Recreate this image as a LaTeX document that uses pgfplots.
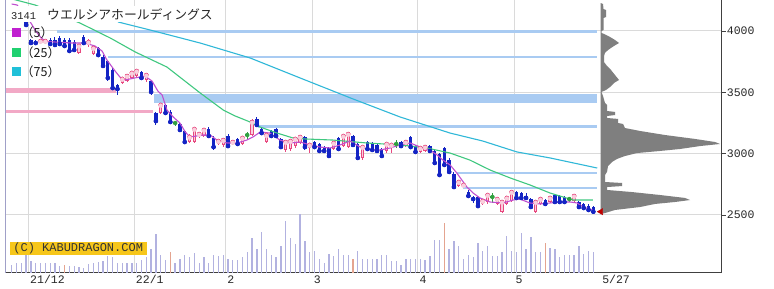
\documentclass[border=0pt]{standalone}
\usepackage{fontspec}
\setmainfont{Liberation Sans}
\newfontfamily\jp{Noto Sans CJK JP}
\newfontfamily\mono{Liberation Mono}
\usepackage{pgfplots}
\usepackage{pgfplotstable}
\pgfplotsset{compat=1.18}

\definecolor{bandblue}{HTML}{A9CBF2}
\definecolor{bandpink}{HTML}{F2A9C6}
\definecolor{gridc}{HTML}{DADADA}
\definecolor{cdown}{HTML}{1424C4}
\definecolor{cup}{HTML}{E8487F}
\definecolor{cupfill}{HTML}{F9CFDD}
\definecolor{cdoji}{HTML}{30A040}
\definecolor{ma5}{HTML}{C050D0}
\definecolor{ma25}{HTML}{40C880}
\definecolor{ma75}{HTML}{30B8D8}
\definecolor{leg5}{HTML}{C020D0}
\definecolor{leg25}{HTML}{20D070}
\definecolor{leg75}{HTML}{20C0D8}
\definecolor{volc}{HTML}{B2B2E0}
\definecolor{volr}{HTML}{E4A490}
\definecolor{profc}{HTML}{7F7F7F}
\definecolor{crbg}{HTML}{F6C61A}
\definecolor{leftc}{HTML}{A0A0C8}
\definecolor{mk}{HTML}{C00000}

% down candles: index open high low close
\pgfplotstableread{
i o h l c
0 4171 4187 4122 4139
1 4139 4155 4090 4106
3 4073 4081 4041 4049
4 3927 3935 3894 3902
5 3918 3927 3894 3902
8 3927 3943 3886 3894
9 3927 3951 3878 3886
10 3943 3959 3878 3894
11 3927 3943 3870 3878
12 3927 3943 3829 3837
13 3910 3927 3829 3845
15 3951 3967 3894 3902
18 3861 3870 3788 3804
19 3788 3804 3706 3715
20 3755 3764 3592 3617
21 3682 3698 3519 3535
22 3560 3568 3478 3527
27 3666 3674 3601 3617
29 3592 3601 3478 3503
30 3332 3340 3234 3266
32 3397 3405 3323 3332
33 3340 3356 3250 3258
35 3242 3258 3185 3193
36 3185 3193 3087 3095
41 3201 3217 3136 3144
42 3128 3144 3030 3054
45 3144 3160 3054 3062
47 3120 3128 3062 3079
51 3283 3299 3226 3234
52 3201 3217 3160 3168
54 3185 3193 3136 3144
55 3201 3209 3136 3144
56 3120 3128 3046 3054
61 3136 3144 3030 3054
63 3095 3103 3046 3054
64 3079 3087 3005 3022
65 3054 3062 3005 3022
66 3046 3054 2973 2981
68 3128 3136 3030 3038
71 3144 3152 3054 3071
72 3079 3087 2948 2965
74 3095 3103 3030 3038
75 3087 3095 3014 3030
76 3071 3079 3014 3022
77 3038 3046 2973 2981
81 3095 3103 3054 3062
83 3136 3144 3046 3054
84 3062 3071 3005 3014
87 3062 3071 3014 3022
88 3022 3030 2908 2924
89 2997 3005 2810 2826
90 3046 3054 2899 2908
91 2948 2965 2834 2851
92 2834 2851 2720 2728
95 2687 2704 2647 2655
96 2647 2655 2598 2630
97 2647 2655 2557 2573
105 2687 2696 2622 2639
106 2679 2687 2622 2639
107 2655 2679 2622 2639
108 2630 2639 2557 2565
111 2622 2630 2582 2590
113 2663 2671 2598 2606
114 2655 2663 2598 2606
115 2647 2655 2598 2606
118 2606 2614 2557 2565
119 2590 2598 2541 2557
120 2573 2590 2524 2541
121 2565 2573 2516 2527
}\down

% up candles
\pgfplotstableread{
i o h l c
2 4098 4139 4081 4122
6 3902 3927 3894 3918
7 3902 3927 3894 3918
14 3821 3894 3812 3878
16 3886 3935 3870 3910
17 3812 3878 3804 3861
23 3576 3625 3568 3609
24 3592 3641 3584 3633
25 3617 3666 3609 3658
26 3633 3682 3625 3674
28 3601 3649 3584 3641
31 3332 3405 3323 3397
37 3095 3160 3087 3136
38 3095 3209 3087 3201
39 3144 3177 3128 3160
40 3144 3209 3136 3193
43 3079 3120 3071 3103
44 3071 3120 3054 3111
46 3079 3103 3071 3095
48 3079 3136 3071 3128
50 3152 3283 3144 3258
53 3095 3168 3087 3152
57 3030 3111 3014 3095
58 3038 3111 3022 3103
59 3062 3136 3046 3120
60 3087 3144 3079 3136
62 3046 3087 3005 3071
67 3038 3095 3030 3087
69 3062 3152 3054 3144
70 3054 3168 3046 3160
73 2965 3062 2948 3054
78 3022 3087 3005 3079
79 3046 3087 3005 3071
82 3062 3103 3054 3095
85 3014 3054 3005 3046
86 3022 3071 3014 3054
93 2736 2785 2728 2769
94 2728 2753 2720 2745
98 2590 2630 2582 2614
99 2606 2679 2590 2663
101 2590 2639 2582 2630
102 2524 2614 2516 2606
103 2590 2647 2582 2639
104 2614 2696 2606 2687
109 2524 2614 2516 2606
110 2590 2639 2582 2630
112 2606 2647 2598 2639
117 2614 2671 2606 2655
}\up

% doji candles
\pgfplotstableread{
i o h l c
34 3250 3266 3226 3250
49 3152 3177 3111 3152
80 3079 3111 3046 3079
100 2647 2679 2598 2647
116 2630 2647 2606 2630
}\doji

% moving averages
\pgfplotstableread{
i v
0 4220
1.1 4212
2 4170
3 4120
4 4065
5 4000
6 3950
7 3915
9 3910
12.5 3902
15.2 3902
17.3 3878
18.8 3837
19.8 3764
21.5 3674
22.5 3625
23.6 3601
25.6 3617
27.7 3633
29.2 3592
30.4 3511
31.3 3478
32.3 3356
33.6 3299
35.0 3250
36.1 3177
37.1 3136
39.8 3152
41.3 3152
42.7 3111
44.8 3087
46.9 3087
48.9 3111
50.2 3136
51.7 3177
53.7 3168
55.8 3111
57.9 3087
60.0 3095
62.1 3071
64.1 3054
66.2 3046
68.3 3071
70.4 3103
72.5 3054
74.5 3030
76.6 3030
78.7 3046
80.8 3071
82.9 3087
85.0 3054
87.0 3030
88.5 2989
89.7 2948
91.2 2908
92.6 2842
94.7 2728
96.0 2679
97.4 2639
99.5 2606
102.2 2598
104.3 2622
105.7 2630
107.8 2598
109.9 2590
112.0 2598
114.1 2606
116.2 2606
117.6 2598
118.9 2565
120.9 2541
}\maA

\pgfplotstableread{
i v
0 4262
4.85 4212
14.2 4065
20.5 3943
25.7 3829
32.3 3706
39.2 3495
44.0 3356
46.5 3307
49.6 3258
51.7 3217
55.2 3168
58.5 3128
61.0 3120
66.8 3111
73.9 3087
80.8 3071
86.4 3046
91.2 3005
95.3 2948
99.5 2867
103.7 2802
107.8 2745
112.0 2679
114.7 2647
116.8 2622
120.9 2622
}\maB

\pgfplotstableread{
i v
22.1 4074
28.8 4008
39.2 3902
49.6 3780
60.0 3617
71.0 3446
80.8 3299
91.2 3168
98.0 3103
105.1 3014
112.0 2965
121.8 2883
}\maC

% volume (thousand shares)
\pgfplotstableread{
i v
0 115
1 140
2 130
3 265
4 165
5 140
6 130
7 130
8 130
9 130
10 90
11 115
12 90
13 90
14 75
15 65
16 125
17 140
18 150
19 165
20 230
21 215
22 140
23 140
24 140
25 130
26 140
27 180
28 215
29 330
30 550
31 250
32 180
33 290
34 140
35 190
36 250
37 215
38 280
39 140
40 215
41 130
42 250
43 240
44 250
45 190
46 180
47 180
48 215
49 290
50 490
51 330
52 580
53 340
54 250
55 215
56 380
57 725
58 490
59 400
60 830
61 450
62 290
63 305
64 190
65 130
66 265
67 240
68 330
69 250
70 250
71 190
72 305
73 190
74 190
75 190
76 200
77 250
78 250
79 165
80 165
81 105
82 190
83 190
84 200
85 190
86 180
87 230
88 465
89 465
90 700
91 340
92 450
93 380
94 190
95 250
96 215
97 415
98 300
99 380
100 230
101 230
102 290
103 515
104 305
105 290
106 565
107 340
108 500
109 290
110 290
111 415
112 350
113 340
114 215
115 250
116 250
117 250
118 380
119 265
120 305
121 290
}\vol

\pgfplotstableread{
i v
11 115
33 290
71 190
90 700
111 415
}\volred

% volume by price profile
\pgfplotstableread{
v p
0 4228
2.3 4220
2.8 4179
5.3 4171
5.3 4114
2.8 4106
2.8 4008
0.8 4000
0.8 3984
3.3 3976
9.3 3951
14.3 3927
18.3 3902
13.3 3878
7.3 3845
4.3 3821
3.3 3796
3.3 3747
6.3 3715
10.3 3682
14.3 3641
18.3 3601
13.3 3576
9.3 3543
5.3 3519
0.8 3503
2.3 3470
4.3 3413
6.3 3397
6.3 3348
14.3 3340
14.3 3315
6.3 3307
6.3 3291
17.3 3283
17.3 3250
22.3 3242
24.3 3209
39.3 3185
64.3 3152
94.3 3120
114.3 3095
119.3 3079
99.3 3062
79.3 3038
59.3 3022
36.3 3005
24.3 2981
16.3 2957
11.3 2932
7.3 2899
6.3 2851
4.3 2826
4.3 2769
21.3 2761
21.3 2736
6.3 2728
6.3 2704
31.3 2687
59.3 2663
84.3 2639
89.3 2622
74.3 2606
54.3 2590
39.3 2565
14.3 2541
4.3 2516
0.3 2508
0 2504
}\prof

\begin{document}
\begin{tikzpicture}
\useasboundingbox (0pt,0pt) rectangle (774pt,-289pt);
\fill[white] (0pt,0pt) rectangle (774pt,-289pt);

\begin{axis}[
  at={(5pt,-272.7pt)}, anchor=south west,
  scale only axis, width=716.7pt, height=272.7pt,
  xmin=-1.394, xmax=147.7, ymin=2029.6, ymax=4252.7,
  axis x line*=bottom, axis y line*=right,
  axis line style={draw=black!75, line width=0.9pt, -},
  xtick={3.5,25.5,44.5,62.5,84.5,104.5},
  xticklabels={21/12,22/1,2,3,4,5},
  extra x ticks={122.5}, extra x tick labels={5/27},
  extra x tick style={grid=none},
  ytick={2500,3000,3500,4000},
  yticklabels={2500,3000,3500,4000},
  grid=major, major grid style={draw=gridc, line width=1pt},
  tick align=outside, major tick length=4pt,
  xtick style={draw=none},
  ytick style={draw=black!75, line width=0.8pt},
  ticklabel style={font=\mono\fontsize{11.5}{12}\selectfont, text=black!85},
  xticklabel style={anchor=base west, inner sep=0pt, xshift=1.5pt, yshift=-7pt},
  yticklabel style={anchor=west, inner sep=0pt, xshift=1pt},
]
% support / resistance bands
\addplot[bandpink, line width=5pt, forget plot] coordinates {(-1.4,3515) (21.8,3515)};
\addplot[bandpink, line width=3.5pt, forget plot] coordinates {(-1.4,3344) (29.4,3344)};
\addplot[bandblue, line width=3.5pt, forget plot] coordinates {(9.4,3996) (121.8,3996)};
\addplot[bandblue, line width=1.3pt, forget plot] coordinates {(20,3788) (121.8,3788)};
\addplot[bandblue, line width=9pt, forget plot] coordinates {(29.6,3450) (121.8,3450)};
\addplot[bandblue, line width=3.5pt, forget plot] coordinates {(51.2,3221) (121.8,3221)};
\addplot[bandblue, line width=1.3pt, forget plot] coordinates {(92.6,2842) (121.8,2842)};
\addplot[bandblue, line width=1.3pt, forget plot] coordinates {(93.9,2720) (121.8,2720)};

% down candles
\addplot[cdown, only marks, mark=none, error bars/.cd, y dir=both, y explicit, error mark=none,
  error bar style={line width=1pt}]
  table[x=i, y=c, y error plus expr=\thisrow{h}-\thisrow{c}, y error minus expr=\thisrow{c}-\thisrow{l}] {\down};
\addplot[cdown, only marks, mark=none, error bars/.cd, y dir=both, y explicit, error mark=none,
  error bar style={line width=3.3pt}]
  table[x=i, y=c, y error plus expr=\thisrow{o}-\thisrow{c}, y error minus expr=0] {\down};
% up candles
\addplot[cup, only marks, mark=none, error bars/.cd, y dir=both, y explicit, error mark=none,
  error bar style={line width=1pt}]
  table[x=i, y=c, y error plus expr=\thisrow{h}-\thisrow{c}, y error minus expr=\thisrow{c}-\thisrow{l}] {\up};
\addplot[cup, only marks, mark=none, error bars/.cd, y dir=both, y explicit, error mark=none,
  error bar style={line width=3.3pt}]
  table[x=i, y=c, y error plus expr=0, y error minus expr=\thisrow{c}-\thisrow{o}] {\up};
\addplot[cupfill, only marks, mark=none, error bars/.cd, y dir=both, y explicit, error mark=none,
  error bar style={line width=1.3pt}]
  table[x=i, y expr=\thisrow{c}-6, y error plus expr=0, y error minus expr={max(\thisrow{c}-\thisrow{o}-12,0)}] {\up};
% doji
\addplot[cdoji, only marks, mark=none, error bars/.cd, y dir=both, y explicit, error mark=none,
  error bar style={line width=1pt}]
  table[x=i, y=c, y error plus expr=\thisrow{h}-\thisrow{c}, y error minus expr=\thisrow{c}-\thisrow{l}] {\doji};
\addplot[cdoji, only marks, mark=-, mark size=2pt, mark options={line width=1.2pt}] table[x=i, y=c] {\doji};

% moving averages
\addplot[ma75, line width=1.1pt, mark=none] table[x=i, y=v] {\maC};
\addplot[ma25, line width=1.1pt, mark=none] table[x=i, y=v] {\maB};
\addplot[ma5, line width=1.1pt, mark=none] table[x=i, y=v] {\maA};
\end{axis}

% volume
\begin{axis}[
  at={(5pt,-272.7pt)}, anchor=south west,
  scale only axis, width=716.7pt, height=272.7pt,
  xmin=-1.394, xmax=147.7, ymin=0, ymax=3850,
  axis lines=none,
]
\addplot[ycomb, volc, line width=1.3pt, mark=none] table[x=i, y=v] {\vol};
\addplot[ycomb, volr, line width=1.3pt, mark=none] table[x=i, y=v] {\volred};
\end{axis}

% price profile
\begin{axis}[
  at={(600.7pt,-272.7pt)}, anchor=south west,
  scale only axis, width=121pt, height=272.7pt,
  xmin=0, xmax=121, ymin=2029.6, ymax=4252.7,
  axis lines=none, clip=false,
]
\addplot[fill=profc, draw=none] table[x=v, y=p] {\prof} -- cycle;
\addplot[only marks, mark=triangle*, mark size=3.6pt, mark options={rotate=90, fill=mk, draw=mk}] coordinates {(0.2,2527)};
\end{axis}

\draw[leftc, line width=1pt] (5pt,0pt) -- (5pt,-272.7pt);

% title
\fill[white] (8pt,-6pt) rectangle (218pt,-22pt);
\node[anchor=base west, inner sep=0pt, text=black!85] at (11pt,-19.5pt) {\mono\fontsize{10.4}{11}\selectfont 3141};
\node[anchor=base west, inner sep=0pt, text=black!85] at (47pt,-19.5pt) {\jp\fontsize{12.8}{13}\selectfont ウエルシアホールディングス};

% legend
\fill[leg5] (12pt,-28pt) rectangle (21pt,-37pt);
\fill[leg25] (12pt,-48pt) rectangle (21pt,-57pt);
\fill[leg75] (12pt,-67pt) rectangle (21pt,-76pt);
\node[anchor=west, inner sep=0pt, text=black!90] at (21pt,-32.5pt) {\jp\fontsize{12.5}{13}\selectfont （5）};
\node[anchor=west, inner sep=0pt, text=black!90] at (21pt,-52.5pt) {\jp\fontsize{12.5}{13}\selectfont （25）};
\node[anchor=west, inner sep=0pt, text=black!90] at (21pt,-71.5pt) {\jp\fontsize{12.5}{13}\selectfont （75）};

% copyright
\node[fill=crbg, anchor=north west, inner sep=0pt, minimum width=137.4pt, minimum height=13.3pt, text=black!80]
  at (9.3pt,-241.7pt) {\mono\fontsize{12}{12}\selectfont (C) KABUDRAGON.COM};
\end{tikzpicture}
\end{document}
